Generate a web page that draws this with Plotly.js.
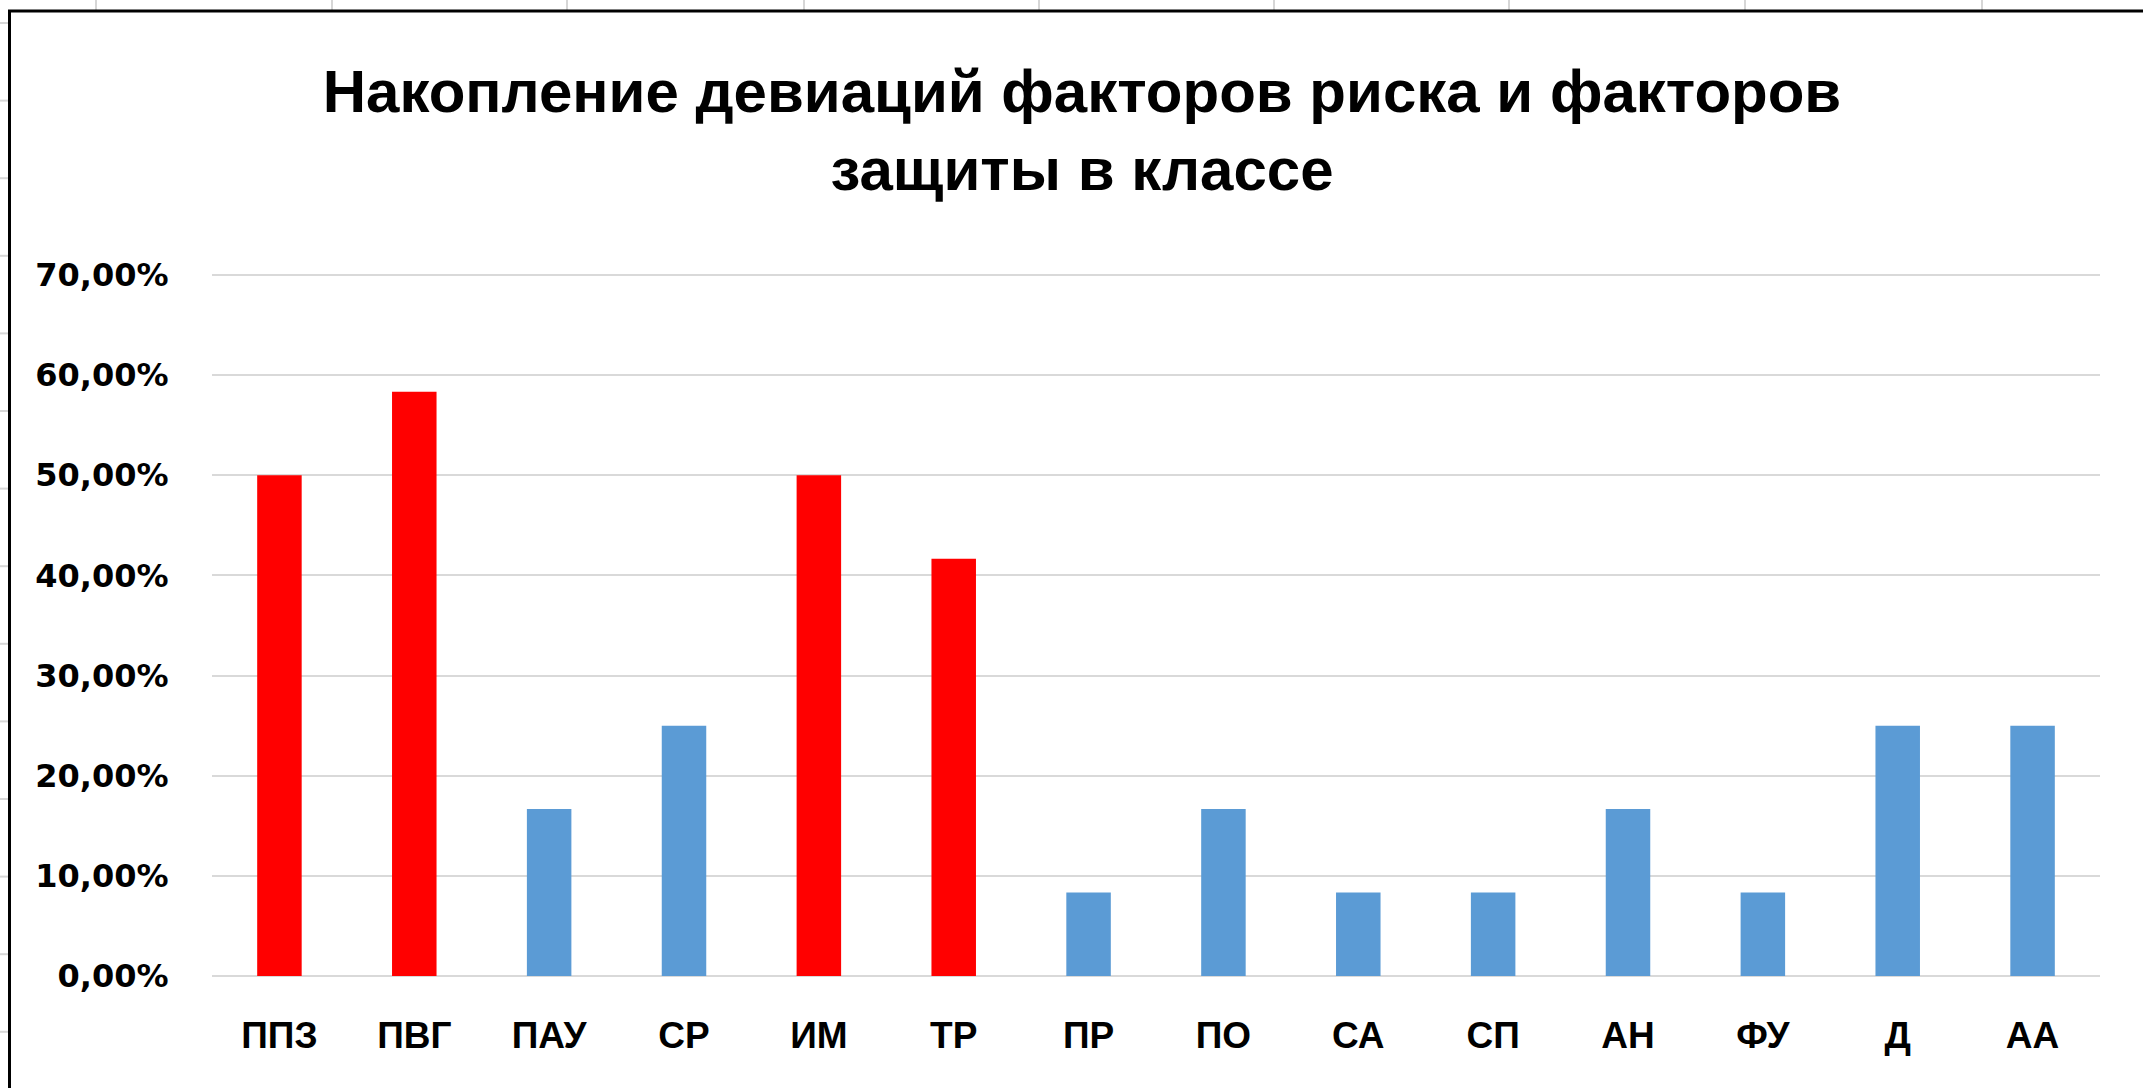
<!DOCTYPE html>
<html><head><meta charset="utf-8">
<script src="https://cdn.plot.ly/plotly-3.0.1.min.js"></script>
<style>html,body{margin:0;padding:0;background:#fff;overflow:hidden}</style>
</head><body><div id="chart" style="width:2143px;height:1088px"></div>
<script>
const categories = ['ППЗ','ПВГ','ПАУ','СР','ИМ','ТР','ПР','ПО','СА','СП','АН','ФУ','Д','АА'];
const values = [0.5, 0.5833, 0.1667, 0.25, 0.5, 0.4167, 0.0833, 0.1667, 0.0833, 0.0833, 0.1667, 0.0833, 0.25, 0.25];
const riskCategories = ['ППЗ','ПВГ','ИМ','ТР'];
const yTickValues = [0, 0.1, 0.2, 0.3, 0.4, 0.5, 0.6, 0.7];
const yTickLabels = ['0,00%','10,00%','20,00%','30,00%','40,00%','50,00%','60,00%','70,00%'];
const titleText = 'Накопление девиаций факторов риска и факторов<br>защиты в классе';

const W = 2143, H = 1088, L = 212, R = 43, T = 270, B = 112;
const pw = W - L - R, ph = H - T - B;
const px = v => (v - L) / pw;
const py = v => 1 - (v - T) / ph;

const colors = categories.map(c => riskCategories.includes(c) ? '#FF0000' : '#5B9BD5');

const shapes = [];
// spreadsheet grid lines behind the chart object
[96, 332, 567, 804, 1039, 1274, 1509, 1745, 1982].forEach(x => {
  shapes.push({type:'line', xref:'paper', yref:'paper', x0:px(x), x1:px(x), y0:py(0), y1:py(10), line:{color:'#d6d6d6', width:2}, layer:'below'});
});
for (let y = 23; y < H; y += 77.6) {
  shapes.push({type:'line', xref:'paper', yref:'paper', x0:px(0), x1:px(8), y0:py(y), y1:py(y), line:{color:'#d6d6d6', width:2}, layer:'below'});
}
// chart object border
shapes.push({type:'rect', xref:'paper', yref:'paper', x0:px(9.5), x1:px(W + 20), y0:py(11), y1:py(H + 20), line:{color:'#000', width:3}, fillcolor:'rgba(0,0,0,0)', layer:'above'});

const font = 'Liberation Sans, Arial, sans-serif';

Plotly.newPlot('chart', [{
  type: 'bar',
  x: categories,
  y: values,
  marker: {color: colors, line: {width: 0}},
  hoverinfo: 'x+y'
}], {
  width: W, height: H,
  margin: {l: L, r: R, t: T, b: B, pad: 0},
  paper_bgcolor: '#fff', plot_bgcolor: '#fff',
  bargap: 0.67,
  showlegend: false,
  title: {
    text: titleText,
    font: {family: font, size: 60, color: '#000', weight: 'bold'},
    x: 1082 / W, xref: 'container', xanchor: 'center',
    y: 1 - 112 / H, yref: 'container', yanchor: 'top'
  },
  xaxis: {
    type: 'category',
    showgrid: false, zeroline: false, showline: false,
    ticks: 'outside', ticklen: 27, tickcolor: 'rgba(0,0,0,0)',
    tickfont: {family: font, size: 37, color: '#000', weight: 'bold'},
    fixedrange: true
  },
  yaxis: {
    range: [0, 0.705],
    tickvals: yTickValues, ticktext: yTickLabels,
    showgrid: true, gridcolor: '#d9d9d9', gridwidth: 2,
    zeroline: true, zerolinecolor: '#d9d9d9', zerolinewidth: 2,
    showline: false,
    ticks: 'outside', ticklen: 36, tickcolor: 'rgba(0,0,0,0)',
    tickfont: {family: 'DejaVu Sans, Verdana, sans-serif', size: 32, color: '#000', weight: 'bold'},
    fixedrange: true
  },
  shapes: shapes
}, {displayModeBar: false, staticPlot: true});
</script></body></html>
